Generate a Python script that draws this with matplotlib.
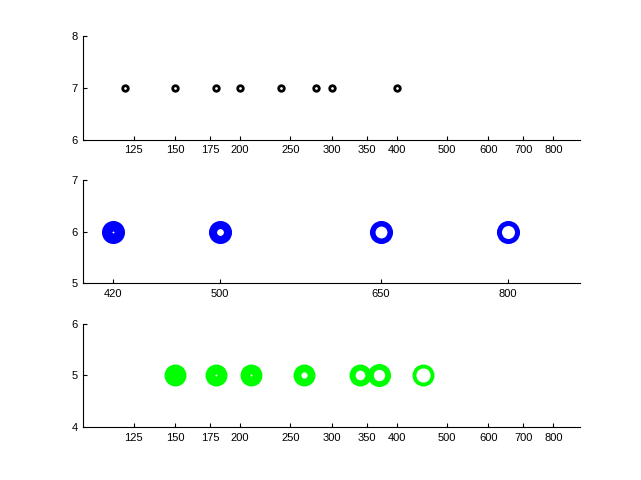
import numpy as np
import matplotlib
matplotlib.use('Agg')
import matplotlib.pyplot as plt

plt.rcParams['font.family'] = ['Liberation Sans', 'DejaVu Sans']

# data
x_top = [120, 150, 180, 200, 240, 280, 300, 400]
y_top = 7
x_mid = [420, 500, 650, 800]
y_mid = 6
x_bot = [150, 180, 210, 265, 340, 370, 450]
y_bot = 5

ticks_log = [125, 150, 175, 200, 250, 300, 350, 400, 500, 600, 700, 800]
ticks_mid = [420, 500, 650, 800]

# marker look: (size, edge width) in points
mk_mid = [(9.2, 7.4), (10.8, 5.8), (12.6, 4.0), (13.0, 3.6)]
mk_bot = [(8.2, 7.6), (8.8, 7.0), (8.8, 7.0), (10.2, 5.6), (11.4, 4.4), (12.4, 4.2), (13.0, 2.8)]

fig = plt.figure(figsize=(6.41, 4.8), dpi=100)

def setup(ax, xlim, ylim, xt):
    ax.set_xscale('log')
    ax.set_xlim(xlim)
    ax.set_ylim(ylim)
    ax.set_xticks(xt)
    ax.set_xticklabels([str(t) for t in xt])
    ax.xaxis.set_minor_locator(matplotlib.ticker.NullLocator())
    ax.set_yticks([ylim[0], (ylim[0] + ylim[1]) / 2, ylim[1]])
    ax.set_yticklabels([str(int(v)) for v in [ylim[0], (ylim[0] + ylim[1]) / 2, ylim[1]]])
    ax.spines['top'].set_visible(False)
    ax.spines['right'].set_visible(False)
    for s in ['left', 'bottom']:
        ax.spines[s].set_linewidth(0.8)
    ax.tick_params(direction='in', length=3, width=0.8, labelsize=8, pad=4)

ax1 = fig.add_axes([0.13, 0.7093, 0.775, 0.2157])
setup(ax1, (100, 900), (6, 8), ticks_log)
ax1.plot(x_top, [y_top] * len(x_top), 'o', color='k', mfc='none', ms=4.0, mew=2.0, ls='none')

ax2 = fig.add_axes([0.13, 0.4096, 0.775, 0.2157])
setup(ax2, (400, 900), (5, 7), ticks_mid)
for xv, (ms, mw) in zip(x_mid, mk_mid):
    ax2.plot([xv], [y_mid], 'o', color='#0000ff', mfc='none', ms=ms, mew=mw)

ax3 = fig.add_axes([0.13, 0.11, 0.775, 0.2157])
setup(ax3, (100, 900), (4, 6), ticks_log)
for xv, (ms, mw) in zip(x_bot, mk_bot):
    ax3.plot([xv], [y_bot], 'o', color='#00ff00', mfc='none', ms=ms, mew=mw)

fig.savefig('out.png', dpi=100)
